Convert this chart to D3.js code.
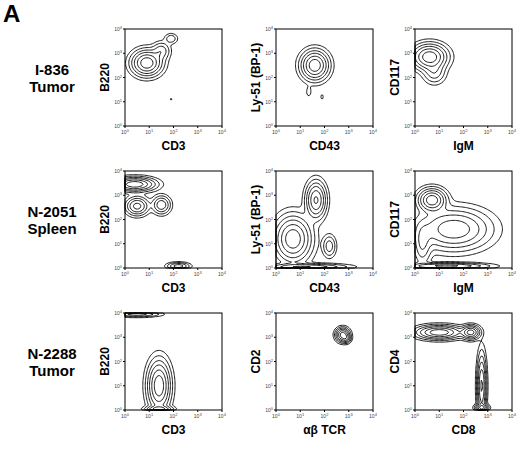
<!DOCTYPE html>
<html><head><meta charset="utf-8">
<script src="https://cdn.jsdelivr.net/npm/d3@7"></script>
<style>body{margin:0;background:#fff}text{font-family:"Liberation Sans",Arial,sans-serif}</style>
</head><body><div id="chart"></div>
<script>
var w = 520, h = 449;
var rowLabels = [["I-836", "Tumor"], ["N-2051", "Spleen"], ["N-2288", "Tumor"]];
var xLabels = [["CD3", "CD43", "IgM"], ["CD3", "CD43", "IgM"], ["CD3", "αβ TCR", "CD8"]];
var yLabels = [["B220", "Ly-51 (BP-1)", "CD117"], ["B220", "Ly-51 (BP-1)", "CD117"], ["B220", "CD2", "CD4"]];
var tickExps = [0, 1, 2, 3, 4];
// populations per panel: [x decade, y decade, sd x, sd y, weight]
var populations = [
  [[0.9, 2.6, 0.33, 0.28, 1], [1.5, 3.1, 0.2, 0.2, 0.25], [1.9, 3.6, 0.15, 0.12, 0.15], [1.9, 1.1, 0.05, 0.05, 0.04]],
  [[1.6, 2.5, 0.3, 0.32, 1], [1.35, 1.4, 0.08, 0.15, 0.05], [1.9, 1.2, 0.06, 0.12, 0.04]],
  [[0.6, 2.85, 0.38, 0.28, 1], [0.8, 2.2, 0.25, 0.25, 0.25]],
  [[0.4, 3.45, 0.45, 0.15, 1], [0.5, 2.55, 0.25, 0.2, 0.6], [1.5, 2.6, 0.2, 0.2, 0.45], [2.2, 0.08, 0.25, 0.08, 0.4]],
  [[0.7, 1.2, 0.4, 0.5, 1], [1.65, 2.8, 0.22, 0.4, 0.8], [2.2, 0.9, 0.15, 0.25, 0.25], [1.2, 0.05, 0.9, 0.07, 0.5]],
  [[0.7, 2.8, 0.3, 0.25, 1], [1.6, 1.6, 0.8, 0.45, 0.7], [0.3, 1.0, 0.2, 0.5, 0.3], [1.3, 0.08, 0.9, 0.07, 0.6]],
  [[1.4, 1.0, 0.25, 0.55, 1], [0.5, 3.95, 0.5, 0.06, 0.4], [1.4, 0.05, 0.3, 0.06, 0.5]],
  [[2.75, 3.1, 0.15, 0.15, 1], [2.9, 2.95, 0.1, 0.1, 0.4]],
  [[1.0, 3.2, 0.5, 0.15, 1], [2.3, 3.2, 0.2, 0.15, 0.9], [2.75, 1.0, 0.1, 0.7, 0.8], [2.75, 0.1, 0.15, 0.08, 0.6]]
];
var levels = [0.03, 0.08, 0.17, 0.3, 0.5, 0.75];
var colX = [125, 276, 415], rowY = [29, 171, 313], size = 97;

var svg = d3.select("#chart").append("svg").attr("width", w).attr("height", h);
svg.append("text").attr("x", 3).attr("y", 22).attr("font-size", 24).attr("font-weight", "bold").text("A");

rowLabels.forEach(function(lab, r) {
  var t = svg.append("text").attr("x", 52).attr("y", rowY[r] + 46).attr("text-anchor", "middle")
    .attr("font-size", 15).attr("font-weight", "bold");
  t.append("tspan").attr("x", 52).text(lab[0]);
  t.append("tspan").attr("x", 52).attr("dy", 17).text(lab[1]);
});

var n = 80;
for (var r = 0; r < 3; r++) for (var c = 0; c < 3; c++) {
  var x0 = colX[c], y0 = rowY[r];
  var x = d3.scaleLog().domain([1, 1e4]).range([x0, x0 + size]);
  var y = d3.scaleLog().domain([1, 1e4]).range([y0 + size, y0]);
  var g = svg.append("g");
  var pops = populations[r * 3 + c];
  var vals = new Array(n * n);
  for (var j = 0; j < n; j++) for (var i = 0; i < n; i++) {
    var dx = i / (n - 1) * 4, dy = j / (n - 1) * 4, v = 0;
    pops.forEach(function(p) {
      v += p[4] * Math.exp(-0.5 * (Math.pow((dx - p[0]) / p[2], 2) + Math.pow((dy - p[1]) / p[3], 2)));
    });
    vals[j * n + i] = v;
  }
  var mx = d3.max(vals);
  var cont = d3.contours().size([n, n]).thresholds(levels.map(function(l) { return l * mx; }))(vals);
  var proj = d3.geoTransform({ point: function(px, py) {
    var dx = Math.max(0, Math.min(4, (px - 0.5) / (n - 1) * 4));
    var dy = Math.max(0, Math.min(4, (py - 0.5) / (n - 1) * 4));
    this.stream.point(x(Math.pow(10, dx)), y(Math.pow(10, dy)));
  }});
  g.selectAll("path.c").data(cont).enter().append("path").attr("class", "c")
    .attr("d", d3.geoPath(proj)).attr("fill", "none").attr("stroke", "#000").attr("stroke-width", 0.9);
  g.append("rect").attr("x", x0).attr("y", y0).attr("width", size).attr("height", size)
    .attr("fill", "none").attr("stroke", "#000").attr("stroke-width", 1);
  tickExps.forEach(function(e) {
    var v = Math.pow(10, e);
    g.append("line").attr("x1", x(v)).attr("x2", x(v)).attr("y1", y0 + size).attr("y2", y0 + size + 2).attr("stroke", "#000");
    g.append("line").attr("x1", x0 - 2).attr("x2", x0).attr("y1", y(v)).attr("y2", y(v)).attr("stroke", "#000");
    var tx = g.append("text").attr("x", x(v)).attr("y", y0 + size + 8).attr("text-anchor", "middle").attr("font-size", 5).attr("fill", "#444");
    tx.append("tspan").text("10"); tx.append("tspan").attr("dy", -2).attr("font-size", 4).text(e);
    var ty = g.append("text").attr("x", x0 - 3).attr("y", y(v) + 2).attr("text-anchor", "end").attr("font-size", 5).attr("fill", "#444");
    ty.append("tspan").text("10"); ty.append("tspan").attr("dy", -2).attr("font-size", 4).text(e);
  });
  g.append("text").attr("x", x0 + size / 2).attr("y", y0 + size + 24).attr("text-anchor", "middle")
    .attr("font-size", 12).attr("font-weight", "bold").text(xLabels[r][c]);
  g.append("text").attr("transform", "translate(" + (x0 - 16) + "," + (y0 + size / 2) + ") rotate(-90)")
    .attr("text-anchor", "middle").attr("font-size", 12).attr("font-weight", "bold").text(yLabels[r][c]);
}
</script></body></html>
